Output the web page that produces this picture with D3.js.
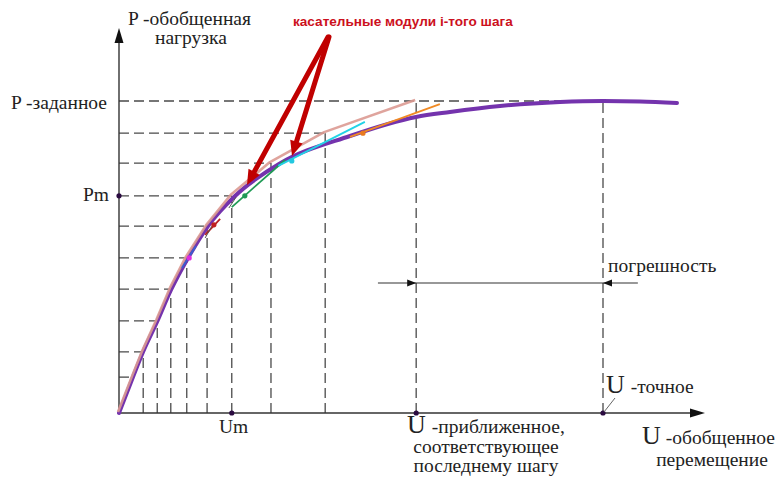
<!DOCTYPE html>
<html><head><meta charset="utf-8">
<script src="https://cdn.jsdelivr.net/npm/d3@7"></script>
<style>body{margin:0;background:#fff}svg{display:block}</style>
</head><body>
<svg id="c" width="782" height="484"></svg>
<script>
// ---- data (U, P in relative units: U-точное = 1, P-заданное = 1) ----
const curveU = [0, 0.0289, 0.0496, 0.0785, 0.1074, 0.1426, 0.1839, 0.2397, 0.3306, 0.4773, 0.6136, 0.6839, 0.7872, 0.9112, 1.0, 1.0764, 1.1529];
const curveP = [0, 0.1154, 0.1955, 0.2917, 0.3942, 0.4968, 0.5994, 0.6955, 0.7981, 0.8878, 0.9487, 0.9647, 0.9840, 0.9968, 1.0, 0.9984, 0.9936];
const stepU = [0, 0.029, 0.050, 0.079, 0.107, 0.140, 0.182, 0.233, 0.314, 0.426, 0.614];
const stepP = [0, 0.115, 0.196, 0.295, 0.397, 0.497, 0.599, 0.696, 0.801, 0.897, 1.0];
const tanU1 = [0.130, 0.178, 0.233, 0.329, 0.477];
const tanP1 = [0.465, 0.571, 0.660, 0.792, 0.885];
const tanU2 = [0.159, 0.209, 0.343, 0.508, 0.663];
const tanP2 = [0.535, 0.622, 0.811, 0.933, 0.990];
const tanColor = ["#3a5fd0", "#b81e1e", "#1f9a55", "#22d3e6", "#f08a24"];
const dotU = [0.145, 0.196, 0.260, 0.357, 0.504];
const dotP = [0.497, 0.603, 0.696, 0.808, 0.897];
const dotColor = ["#e02ae0", "#c02020", "#1f9a55", "#22c8e0", "#e87a20"];
const Um = 0.233, Pm = 0.696, Uapprox = 0.614, Uexact = 1.0, Pgiven = 1.0;
const errP = 0.4167;

const svg = d3.select("#c");
const x = d3.scaleLinear().domain([0, 1]).range([119, 603]);
const y = d3.scaleLinear().domain([0, 1]).range([413, 101]);
const xMax = 1.2107, yMax = 1.234;

const dash = "10,5";
const dashCol = "#4a4a4a";
const g = svg.append("g");

// dashed guides: horizontal
stepP.slice(1).forEach((p, i) => {
  const u = (p === Pgiven) ? Uexact : stepU[i + 1];
  g.append("line").attr("x1", x(0)).attr("x2", x(u)).attr("y1", y(p)).attr("y2", y(p))
    .attr("stroke", dashCol).attr("stroke-width", 1.3).attr("stroke-dasharray", dash);
});
// dashed guides: vertical
stepU.slice(2).forEach((u, i) => {
  g.append("line").attr("x1", x(u)).attr("x2", x(u)).attr("y1", y(0)).attr("y2", y(stepP[i + 2]))
    .attr("stroke", dashCol).attr("stroke-width", 1.3).attr("stroke-dasharray", dash);
});
g.append("line").attr("x1", x(Uexact)).attr("x2", x(Uexact)).attr("y1", y(0)).attr("y2", y(Pgiven))
  .attr("stroke", dashCol).attr("stroke-width", 1.3).attr("stroke-dasharray", dash);

// axes
const axisCol = "#333";
g.append("line").attr("x1", x(0)).attr("x2", x(0)).attr("y1", y(0)).attr("y2", y(yMax) + 10)
  .attr("stroke", axisCol).attr("stroke-width", 1.4);
g.append("line").attr("x1", x(0)).attr("x2", x(xMax) - 10).attr("y1", y(0)).attr("y2", y(0))
  .attr("stroke", axisCol).attr("stroke-width", 1.4);
g.append("path").attr("d", `M${x(0)},${y(yMax)} L${x(0)-4.5},${y(yMax)+15} L${x(0)+4.5},${y(yMax)+15} Z`).attr("fill", "#111");
g.append("path").attr("d", `M${x(xMax)},${y(0)} L${x(xMax)-15},${y(0)-4.5} L${x(xMax)-15},${y(0)+4.5} Z`).attr("fill", "#111");

// exact curve
const curvePts = curveU.map((u, i) => [u, curveP[i]]);
g.append("path").datum(curvePts)
  .attr("d", d3.line().x(d => x(d[0])).y(d => y(d[1])).curve(d3.curveMonotoneX))
  .attr("fill", "none").attr("stroke", "#7433ad").attr("stroke-width", 4).attr("stroke-linecap", "round");

// step polyline (approximate)
const stepPts = stepU.map((u, i) => [u, stepP[i]]);
g.append("path").datum(stepPts)
  .attr("d", d3.line().x(d => x(d[0]) - 1).y(d => y(d[1]) - 1))
  .attr("fill", "none").attr("stroke", "#dc9a92").attr("stroke-width", 2.6).attr("stroke-opacity", 0.9)
  .attr("stroke-linejoin", "round");

// tangent segments
tanU1.forEach((u, i) => {
  g.append("line").attr("x1", x(u)).attr("y1", y(tanP1[i])).attr("x2", x(tanU2[i])).attr("y2", y(tanP2[i]))
    .attr("stroke", tanColor[i]).attr("stroke-width", 1.8);
});
// small gray strokes
[[0.178, 0.561, 0.192, 0.599], [0.227, 0.657, 0.242, 0.692]].forEach(s => {
  g.append("line").attr("x1", x(s[0])).attr("y1", y(s[1])).attr("x2", x(s[2])).attr("y2", y(s[3]))
    .attr("stroke", "#555").attr("stroke-width", 1);
});
dotU.forEach((u, i) => {
  g.append("circle").attr("cx", x(u)).attr("cy", y(dotP[i])).attr("r", 2.6).attr("fill", dotColor[i]);
});

// key points
[[0, Pm], [Um, 0], [Uapprox, 0], [Uexact, 0]].forEach(d => {
  g.append("circle").attr("cx", x(d[0])).attr("cy", y(d[1])).attr("r", 2.6).attr("fill", "#2a0a40");
});

// error dimension
const ey = y(errP);
g.append("line").attr("x1", x(0.535)).attr("x2", x(1.072)).attr("y1", ey).attr("y2", ey).attr("stroke", "#333").attr("stroke-width", 1.1);
g.append("path").attr("d", `M${x(Uapprox)},${ey} L${x(Uapprox)-9},${ey-3.5} L${x(Uapprox)-9},${ey+3.5} Z`).attr("fill", "#111");
g.append("path").attr("d", `M${x(Uexact)},${ey} L${x(Uexact)+9},${ey-3.5} L${x(Uexact)+9},${ey+3.5} Z`).attr("fill", "#111");

// leader for U-точное
g.append("line").attr("x1", x(Uexact) + 1).attr("y1", y(0) - 1).attr("x2", x(Uexact) + 12).attr("y2", y(0) - 15)
  .attr("stroke", "#666").attr("stroke-width", 1);

// red arrows
const red = "#c00000";
function redArrow(x0, y0, x1, y1) {
  const a = Math.atan2(y1 - y0, x1 - x0), L = 15, W = 6.5;
  const bx = x1 - L * Math.cos(a), by = y1 - L * Math.sin(a);
  g.append("line").attr("x1", x0).attr("y1", y0).attr("x2", bx).attr("y2", by)
    .attr("stroke", red).attr("stroke-width", 5).attr("stroke-linecap", "round");
  const px = -Math.sin(a) * W, py = Math.cos(a) * W;
  g.append("path").attr("d", `M${x1},${y1} L${bx+px},${by+py} L${bx-px},${by-py} Z`).attr("fill", red);
}
redArrow(328, 37, 247, 185);
redArrow(329, 37, 292, 156);

// texts
const serif = "'Liberation Serif','DejaVu Serif',serif";
const tc = "#222";
function txt(s, tx, ty, size, anchor, fam, color, weight) {
  return g.append("text").attr("x", tx).attr("y", ty).attr("font-size", size).attr("font-family", fam || serif)
    .attr("fill", color || tc).attr("text-anchor", anchor || "start").attr("font-weight", weight || "normal").text(s);
}
txt("P -обобщенная", 128, 25, 19.5);
txt("нагрузка", 155, 44, 19.5);
txt("касательные модули i-того шага", 293, 26, 13.6, "start", "'Liberation Sans',Arial,sans-serif", "#cc1020", "bold");
txt("P -заданное", 107, 109, 19.5, "end");
txt("Pm", 109, 201, 19.5, "end");
txt("Um", 219, 433, 19.5);

const t1 = g.append("text").attr("x", 407).attr("y", 433).attr("font-family", serif).attr("fill", tc);
t1.append("tspan").attr("font-size", 26).text("U");
t1.append("tspan").attr("font-size", 19.5).attr("dx", 6).text("-приближенное,");
txt("соответствующее", 486, 453, 19.5, "middle");
txt("последнему шагу", 486, 472, 19.5, "middle");

const t2 = g.append("text").attr("x", 606).attr("y", 393).attr("font-family", serif).attr("fill", tc);
t2.append("tspan").attr("font-size", 26).text("U");
t2.append("tspan").attr("font-size", 19.5).attr("dx", 6).text("-точное");

const t3 = g.append("text").attr("x", 642).attr("y", 444).attr("font-family", serif).attr("fill", tc);
t3.append("tspan").attr("font-size", 26).text("U");
t3.append("tspan").attr("font-size", 19.5).attr("dx", 5).text("-обобщенное");
txt("перемещение", 712, 466, 19.5, "middle");

txt("погрешность", 608, 272, 19.5);
</script>
</body></html>
